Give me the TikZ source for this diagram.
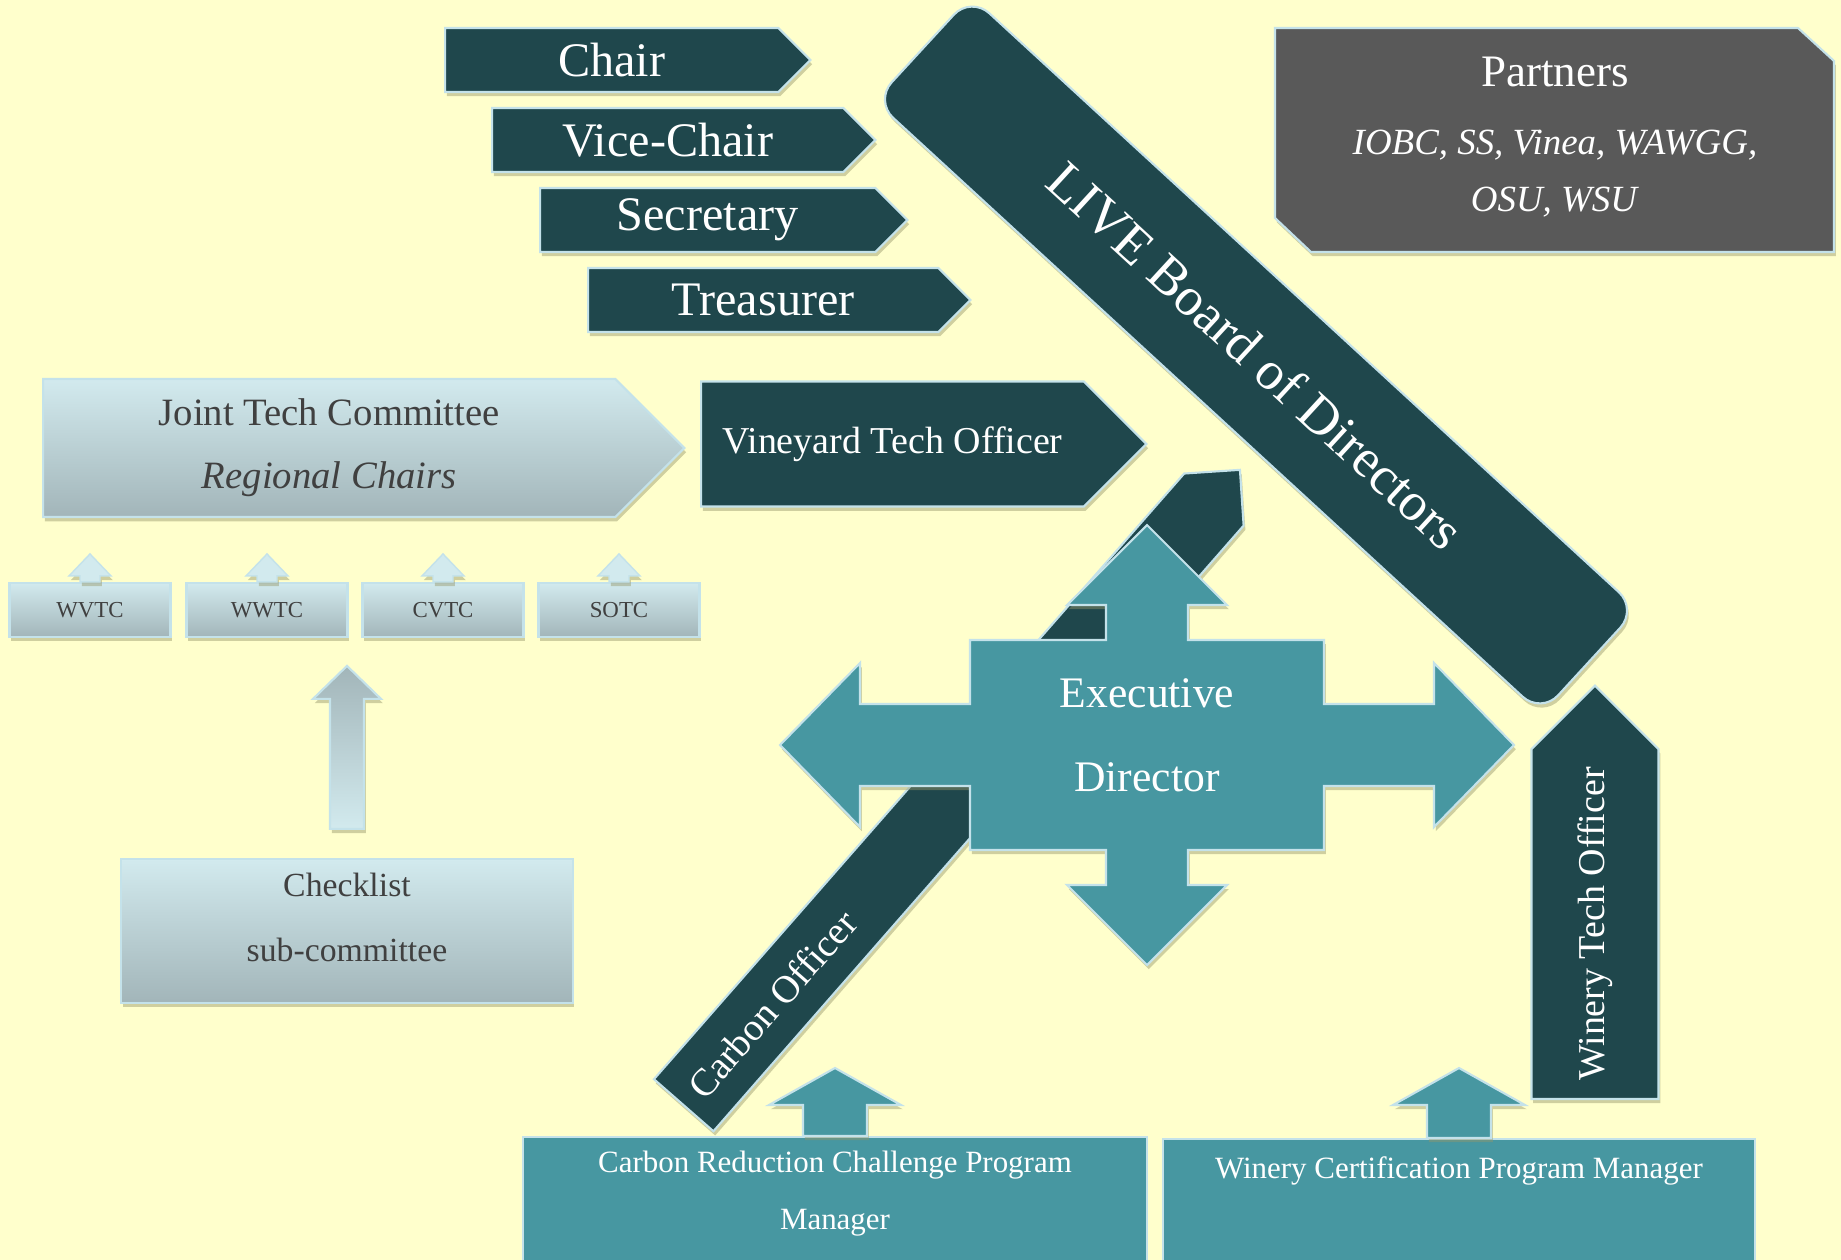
\documentclass[tikz,border=0pt]{standalone}
\usepackage{fontspec}
\setmainfont{Liberation Serif}
\usetikzlibrary{shapes.symbols,shadows,calc}
\definecolor{liveBack}{RGB}{255,255,204}
\definecolor{liveDark}{RGB}{31,71,76}
\definecolor{liveTeal}{RGB}{71,151,161}
\definecolor{liveGray}{RGB}{89,89,89}
\definecolor{liveEdge}{RGB}{196,226,234}
\definecolor{liveLightTop}{RGB}{210,234,238}
\definecolor{liveLightBottom}{RGB}{162,181,185}
\definecolor{liveText}{RGB}{64,64,64}
\definecolor{liveShade}{RGB}{150,150,105}
\tikzset{
  liveshadow/.style={drop shadow={shadow xshift=0.5pt, shadow yshift=-1.2pt, opacity=0.45, fill=liveShade}},
  officebox/.style={signal, signal to=east, signal pointer angle=90, anchor=west, draw=liveEdge,
    line width=0.6pt, fill=liveDark, text=white, minimum height=0.64cm, inner sep=2pt, liveshadow,
    font=\fontsize{13.7}{16}\selectfont},
  boardbox/.style={rectangle, rounded corners=0.25cm, draw=liveEdge, line width=0.6pt, fill=liveDark,
    text=white, minimum width=9.05cm, minimum height=1.42cm, liveshadow,
    font=\fontsize{15.4}{19}\selectfont},
  partnershape/.style={draw=liveEdge, line width=0.6pt, fill=liveGray, liveshadow},
  partnertext/.style={text=white, align=center, font=\fontsize{10.5}{16.2}\selectfont},
  committeebox/.style={rectangle, draw=liveEdge, line width=0.6pt, top color=liveLightTop,
    bottom color=liveLightBottom, text=liveText, align=center, liveshadow},
  committeesignal/.style={committeebox, signal, signal to=east, signal pointer angle=90, anchor=west},
  regionbox/.style={committeebox, minimum width=1.61cm, minimum height=0.54cm, inner sep=1pt,
    font=\fontsize{6.5}{8}\selectfont},
  officerbar/.style={signal, signal to=east, signal pointer angle=90, anchor=west, draw=liveEdge,
    line width=0.6pt, fill=liveDark, text=white, liveshadow},
  managerbox/.style={rectangle, anchor=north, draw=liveEdge, line width=0.6pt, fill=liveTeal,
    text=white, align=center, inner ysep=4pt, font=\fontsize{8.8}{16.2}\selectfont},
  execshape/.style={fill=liveTeal, draw=liveEdge, line width=0.6pt, liveshadow},
  execlabel/.style={text=white, align=center, font=\fontsize{12.4}{24}\selectfont},
  bartext/.style={text=white, font=\fontsize{11}{13}\selectfont},
  lightarrow/.style={fill=liveLightTop, draw=liveEdge, line width=0.4pt, liveshadow},
  checkarrow/.style={top color=liveLightBottom, bottom color=liveLightTop, draw=liveEdge,
    line width=0.6pt, liveshadow},
  tealarrow/.style={fill=liveTeal, draw=liveEdge, line width=0.6pt, liveshadow},
}
% upward block arrow: base point, shaft half width, head half width, shaft length, head length
\newcommand{\blockup}[6][]{%
  \path[#1] ($(#2)+(-#3,0)$) -- ++(0,-#5) -- ++({#3-#4},0) -- ++(#4,-#6) -- ++(#4,#6)
    -- ++({#3-#4},0) -- ++(0,#5) -- cycle;}

\begin{document}
\begin{tikzpicture}[x=0.01cm, y=-0.01cm]
  \useasboundingbox (0,0) rectangle (1841,1260);
  \fill[liveBack] (0,0) rectangle (1841,1260);

  % board and its officers
  \node[boardbox, rotate=-42.6] (board) at (1256,355) {LIVE Board of Directors};
  \node[officebox, minimum width=3.65cm] (chair) at (444,60) {Chair};
  \node[officebox, minimum width=3.83cm] (vicechair) at (491,140) {Vice-Chair};
  \node[officebox, minimum width=3.67cm] (secretary) at (539,220) {Secretary};
  \node[officebox, minimum width=3.82cm] (treasurer) at (587,300) {Treasurer};

  \path[partnershape] (1275,28) -- (1798,28) -- (1834,61) -- (1834,252) -- (1311,252)
    -- (1275,218) -- cycle;
  \node[partnertext] (partners) at (1555,137) {{\fontsize{12.8}{15}\selectfont Partners}\\[3pt]
    \textit{IOBC, SS, Vinea, WAWGG,}\\\textit{OSU, WSU}};

  % technical committees
  \node[committeesignal, minimum width=6.41cm, minimum height=1.38cm,
    font=\fontsize{11}{17.9}\selectfont] (jointtech) at (42,448)
    {Joint Tech Committee\\\textit{Regional Chairs}};
  \node[officebox, minimum width=4.45cm, minimum height=1.25cm,
    font=\fontsize{10.8}{13}\selectfont] (vineyard) at (700,444) {Vineyard Tech Officer};

  \foreach \name/\lbl/\x in {wvtc/WVTC/90, wwtc/WWTC/267, cvtc/CVTC/443, sotc/SOTC/619}{
    \node[regionbox] (\name) at (\x,610) {\lbl};
    \blockup[lightarrow]{\name.north}{10}{21}{6}{22}
  }

  \node[committeebox, minimum width=4.51cm, minimum height=1.44cm, text depth=8pt,
    font=\fontsize{9.6}{18.5}\selectfont] (checklist) at (347,931) {Checklist\\sub-committee};
  \coordinate (checkbase) at ($(checklist.north)+(0,-29)$);
  \blockup[checkarrow]{checkbase}{17}{34}{130}{33}

  % carbon officer bar runs behind the executive director
  \node[officerbar, rotate=48.8, minimum width=8.44cm, minimum height=0.79cm] (carbonbar) at (683,1106) {};
  \node[bartext, rotate=48.8] (carbontext) at ($(carbonbar.west)!0.16!(carbonbar.east)$) {Carbon Officer};

  \coordinate (execcentre) at (1147,745);
  \path[execshape, shift={(execcentre)}] (-177,-105) -- (-41,-105) -- (-41,-140) -- (-80,-140)
    -- (0,-220) -- (80,-140) -- (41,-140) -- (41,-105) -- (177,-105) -- (177,-41) -- (287,-41)
    -- (287,-82) -- (367,0) -- (287,82) -- (287,41) -- (177,41) -- (177,105) -- (41,105)
    -- (41,140) -- (80,140) -- (0,220) -- (-80,140) -- (-41,140) -- (-41,105) -- (-177,105)
    -- (-177,41) -- (-287,41) -- (-287,82) -- (-367,0) -- (-287,-82) -- (-287,-41)
    -- (-177,-41) -- cycle;
  \node[execlabel] (exec) at (1147,735) {Executive\\Director};

  \node[officerbar, rotate=90, minimum width=4.13cm, minimum height=1.27cm,
    font=\fontsize{10.8}{13}\selectfont] (winerytech) at (1595,1100) {Winery Tech Officer};

  % program managers
  \node[managerbox, minimum width=6.24cm, text depth=14pt] (carbonmgr) at (835,1136)
    {Carbon Reduction Challenge Program\\Manager};
  \node[managerbox, minimum width=5.92cm, inner ysep=5pt, text depth=30pt] (winerymgr) at (1459,1138)
    {Winery Certification Program Manager};
  \blockup[tealarrow]{carbonmgr.north}{32}{66}{31}{37}
  \blockup[tealarrow]{winerymgr.north}{32}{66}{33}{37}
\end{tikzpicture}
\end{document}
